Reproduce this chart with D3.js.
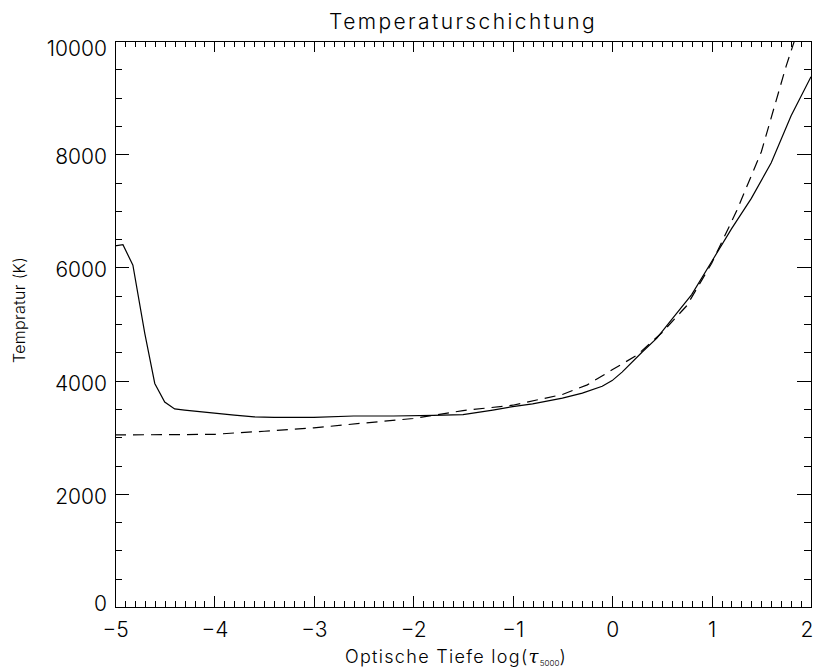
<!DOCTYPE html>
<html>
<head>
<meta charset="utf-8">
<script src="https://cdn.jsdelivr.net/npm/d3@7"></script>
<style>
  body { margin: 0; background: #fff; }
  text { font-family: Inter, "DejaVu Sans", sans-serif; font-weight: 300; fill: #000; }
</style>
</head>
<body>
<div id="chart"></div>
<script>
// solid curve: log(tau5000) vs temperature
const solidTau = [-5.0, -4.92, -4.82, -4.7, -4.6, -4.5, -4.4, -4.3, -4.2, -4.0, -3.8, -3.6, -3.4, -3.0, -2.6, -2.2, -1.8, -1.5, -1.2, -1.0, -0.8, -0.5, -0.3, -0.1, 0.0, 0.1, 0.3, 0.45, 0.6, 0.8, 1.0, 1.2, 1.4, 1.6, 1.8, 2.0];
const solidTemp = [6380, 6400, 6040, 4830, 3950, 3620, 3500, 3480, 3460, 3425, 3390, 3360, 3350, 3350, 3375, 3375, 3385, 3400, 3480, 3540, 3590, 3690, 3780, 3900, 4000, 4150, 4500, 4750, 5080, 5520, 6100, 6680, 7220, 7850, 8680, 9370];

// dashed curve
const dashTau = [-5.0, -4.5, -4.0, -3.8, -3.5, -3.0, -2.5, -2.0, -1.5, -1.0, -0.5, -0.25, 0.0, 0.25, 0.5, 0.75, 1.0, 1.25, 1.5, 1.75, 1.9];
const dashTemp = [3040, 3045, 3050, 3075, 3105, 3165, 3250, 3330, 3470, 3565, 3755, 3925, 4190, 4450, 4845, 5322, 6070, 6990, 8040, 9557, 10360];

const xMajorTicks = [-5, -4, -3, -2, -1, 0, 1, 2];
const yMajorTicks = [0, 2000, 4000, 6000, 8000, 10000];
const xMinorStep = 0.1;
const yMinorStep = 500;

const chartTitle = "Temperaturschichtung";
const yTitle = "Tempratur (K)";

const W = 813, H = 671;
const margin = {left: 115, right: 2, top: 41, bottom: 64};

const svg = d3.select("#chart").append("svg")
    .attr("width", W).attr("height", H);

const x = d3.scaleLinear([-5, 2], [margin.left, W - margin.right]);
const y = d3.scaleLinear([0, 10000], [H - margin.bottom, margin.top]);

const xMinor = d3.range(-5, 2.0001, xMinorStep).filter(v => Math.abs(v - Math.round(v)) > 1e-6);
const yMinor = d3.range(0, 10001, yMinorStep).filter(v => v % 2000 !== 0);

const fmtX = d => d < 0 ? "\u2212" + Math.abs(d) : String(d);

svg.append("clipPath").attr("id", "plotclip")
  .append("rect")
    .attr("x", x(-5)).attr("y", y(10000))
    .attr("width", x(2) - x(-5)).attr("height", y(0) - y(10000));

function styleAxis(g){
    g.attr("font-family", null).attr("font-size", null);
    g.selectAll("path, line").attr("stroke", "#000").attr("shape-rendering", "crispEdges");
}

// bottom axis
svg.append("g")
    .attr("transform", `translate(0,${y(0)})`)
    .call(d3.axisBottom(x).tickValues(xMajorTicks).tickSize(-11).tickSizeOuter(0).tickPadding(15).tickFormat(fmtX))
    .call(styleAxis)
    .call(g => g.selectAll("text").style("font-size", "21px")
        .attr("text-anchor", d => d === 2 ? "end" : "middle")
        .attr("x", d => d === 2 ? 2 : 0));
svg.append("g")
    .attr("transform", `translate(0,${y(0)})`)
    .call(d3.axisBottom(x).tickValues(xMinor).tickSize(-6).tickSizeOuter(0).tickFormat(""))
    .call(styleAxis);

// top axis
svg.append("g")
    .attr("transform", `translate(0,${y(10000)})`)
    .call(d3.axisTop(x).tickValues(xMajorTicks).tickSize(-11).tickSizeOuter(0).tickFormat(""))
    .call(styleAxis);
svg.append("g")
    .attr("transform", `translate(0,${y(10000)})`)
    .call(d3.axisTop(x).tickValues(xMinor).tickSize(-6).tickSizeOuter(0).tickFormat(""))
    .call(styleAxis);

// left axis
svg.append("g")
    .attr("transform", `translate(${x(-5)},0)`)
    .call(d3.axisLeft(y).tickValues(yMajorTicks).tickSize(-14).tickSizeOuter(0).tickPadding(8).tickFormat(d3.format("d")))
    .call(styleAxis)
    .call(g => g.selectAll("text")
        .style("font-size", "21px")
        .attr("dy", "0.36em")
        .attr("y", d => d === 10000 ? 7 : d === 0 ? -4 : 2));
svg.append("g")
    .attr("transform", `translate(${x(-5)},0)`)
    .call(d3.axisLeft(y).tickValues(yMinor).tickSize(-7).tickSizeOuter(0).tickFormat(""))
    .call(styleAxis);

// right axis
svg.append("g")
    .attr("transform", `translate(${x(2)},0)`)
    .call(d3.axisRight(y).tickValues(yMajorTicks).tickSize(-14).tickSizeOuter(0).tickFormat(""))
    .call(styleAxis);
svg.append("g")
    .attr("transform", `translate(${x(2)},0)`)
    .call(d3.axisRight(y).tickValues(yMinor).tickSize(-7).tickSizeOuter(0).tickFormat(""))
    .call(styleAxis);

// curves
const line = d3.line()
    .x(d => x(d[0]))
    .y(d => y(d[1]));

const plot = svg.append("g").attr("clip-path", "url(#plotclip)");

plot.append("path")
    .datum(d3.zip(solidTau, solidTemp))
    .attr("fill", "none")
    .attr("stroke", "#000")
    .attr("stroke-width", 1.2)
    .attr("d", line);

plot.append("path")
    .datum(d3.zip(dashTau, dashTemp))
    .attr("fill", "none")
    .attr("stroke", "#000")
    .attr("stroke-width", 1.2)
    .attr("stroke-dasharray", "11,7")
    .attr("d", line);

// titles
svg.append("text")
    .attr("x", (x(-5) + x(2)) / 2)
    .attr("y", 29)
    .attr("text-anchor", "middle")
    .style("font-size", "21px")
    .style("letter-spacing", "2.4px")
    .text(chartTitle);

svg.append("text")
    .attr("transform", "translate(25,310) rotate(-90)")
    .attr("text-anchor", "middle")
    .style("font-size", "16px")
    .style("letter-spacing", "0.3px")
    .text(yTitle);

const xt = svg.append("text")
    .attr("x", 456)
    .attr("y", 663)
    .attr("text-anchor", "middle")
    .style("font-size", "18px")
    .style("letter-spacing", "1.3px");
xt.append("tspan").text("Optische Tiefe log(");
xt.append("tspan").style("font-family", "'DejaVu Serif', serif").style("font-style", "italic").text("\u03c4");
xt.append("tspan").attr("dy", 3).style("font-size", "8px").style("letter-spacing", "0px").text("5000");
xt.append("tspan").attr("dy", -3).text(")");
</script>
</body>
</html>
